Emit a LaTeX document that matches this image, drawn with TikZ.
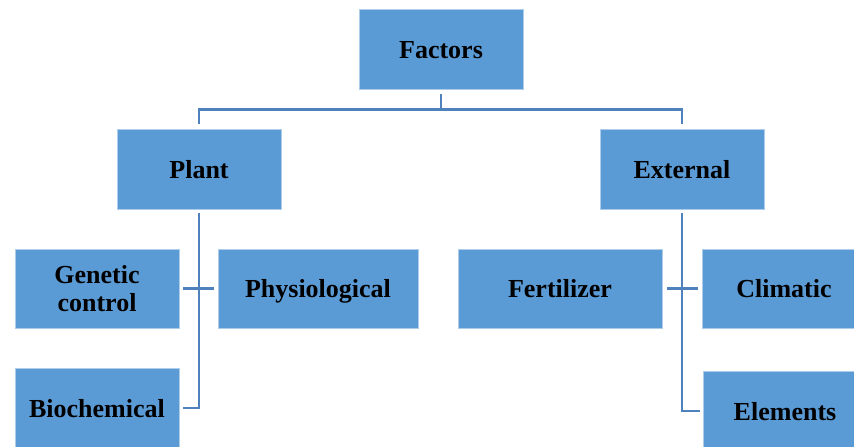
\documentclass[tikz,border=0pt]{standalone}
\usepackage{fontspec}
\setmainfont{Liberation Serif}
\usetikzlibrary{calc, positioning}
\definecolor{boxblue}{HTML}{5B9BD5}
\definecolor{lineblue}{HTML}{4F81BD}

\begin{document}
\begin{tikzpicture}[x=1pt,y=-1pt,
  boxbase/.style={rectangle, fill=boxblue, draw=boxblue!50!white, line width=0.8pt,
    minimum width=164pt, minimum height=80pt, inner sep=0pt, align=center,
    font=\fontsize{26}{28}\selectfont\bfseries},
  box/.style={boxbase, text height=18pt, text depth=0pt},
  link/.style={draw=lineblue, line width=2.6pt}]
\useasboundingbox (0,0) rectangle (854,447);

\node[box] (factors) at (441,49) {Factors};
\node[box] (plant) at (199,169) {Plant};
\node[box] (external) at (682,169) {External};

\node[boxbase, minimum height=79pt] (genetic) at (97,288.5) {Genetic\\control};
\node[box, minimum height=79pt, minimum width=200pt] (physio) at (318,288.5) {Physiological};
\node[box] (biochem) at (97,408) {Biochemical};

\node[box, minimum height=79pt, minimum width=204pt] (fertilizer) at (560,288.5) {Fertilizer};
\node[box, minimum height=79pt] (climatic) at (784,288.5) {Climatic};
\node[box] (elements) at (785,411) {Elements};

% top level
\draw[link] ([yshift=-5pt]factors.south) -- ++(0,15) -| ([yshift=5pt]plant.north);
\draw[link] ([yshift=-5pt]factors.south) ++(0,15) -| ([yshift=5pt]external.north);

% plant branch
\draw[link] ([yshift=-4pt]plant.south) |- ([xshift=4pt]biochem.east);
\draw[link] ([xshift=4pt]genetic.east) -- ([xshift=-4pt]physio.west);

% external branch
\draw[link] ([yshift=-4pt]external.south) |- ([xshift=-3pt]elements.west);
\draw[link] ([xshift=5pt]fertilizer.east) -- ([xshift=-4pt]climatic.west);

\end{tikzpicture}
\end{document}
